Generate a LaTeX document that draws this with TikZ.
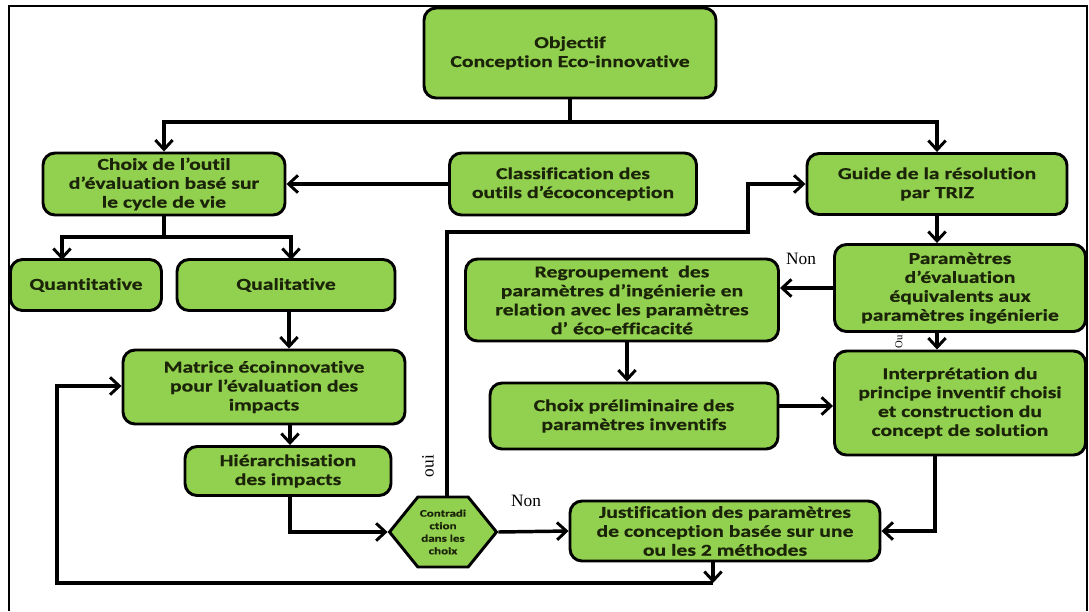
\documentclass[tikz,border=0pt]{standalone}
\usepackage{fontspec}
\setmainfont{Carlito}[FakeStretch=1.3,Ligatures=NoCommon,BoldFeatures={FakeBold=0.6}]
\newfontfamily\labelfont{Liberation Serif}
\usetikzlibrary{arrows.meta,shapes.symbols}
\definecolor{boxgreen}{HTML}{92D050}
\definecolor{boxtext}{HTML}{1B2408}
\begin{document}
\begin{tikzpicture}[x=0.75pt,y=-0.75pt,
  flowbox/.style={draw=black,line width=2.2pt,fill=boxgreen,rounded corners=9pt,
    align=center,text=boxtext,font=\fontsize{12.5}{14.2}\selectfont\bfseries,
    inner sep=1pt,anchor=center},
  link/.style={line width=2.6pt,-{Straight Barb[length=7pt,width=13pt,line width=2.2pt]}},
  plain/.style={line width=2.6pt},
  lab/.style={font=\labelfont\fontsize{13}{14}\selectfont}]
\useasboundingbox (0,0) rectangle (1089,611);
% outer frame
\draw[line width=1.6pt] (9,611) -- (9,6) -- (1087,6) -- (1087,611);

% boxes
\node[flowbox,minimum width=292*0.75pt,minimum height=90*0.75pt] (obj) at (570,53)
  {Objectif\\Conception Eco-innovative};
\node[flowbox,minimum width=242*0.75pt,minimum height=62*0.75pt] (choix) at (164,184)
  {Choix de l’outil\\d’évaluation basé sur\\le cycle de vie};
\node[flowbox,minimum width=247*0.75pt,minimum height=62*0.75pt] (classif) at (573,184)
  {Classification des\\outils d’écoconception};
\node[flowbox,minimum width=260*0.75pt,minimum height=61*0.75pt] (guide) at (937,184)
  {Guide de la résolution\\par TRIZ};
\node[flowbox,minimum width=151*0.75pt,minimum height=51*0.75pt] (quanti) at (86,285)
  {Quantitative};
\node[flowbox,minimum width=218*0.75pt,minimum height=51*0.75pt] (quali) at (286,285)
  {Qualitative};
\node[flowbox,minimum width=251*0.75pt,minimum height=87*0.75pt] (param) at (960,288)
  {Paramètres\\d’évaluation\\équivalents aux\\paramètres ingénierie};
\node[flowbox,minimum width=313*0.75pt,minimum height=82*0.75pt] (regroup) at (622,300)
  {Regroupement\ \ des\\paramètres d’ingénierie en\\relation avec les paramètres\\d’ éco-efficacité};
\node[flowbox,minimum width=282*0.75pt,minimum height=74*0.75pt] (matrice) at (264,387)
  {Matrice écoinnovative\\pour l’évaluation des\\impacts};
\node[flowbox,minimum width=251*0.75pt,minimum height=104*0.75pt] (interp) at (960,403)
  {Interprétation du\\principe inventif choisi\\et construction du\\concept de solution};
\node[flowbox,minimum width=288*0.75pt,minimum height=66*0.75pt] (prelim) at (634,416)
  {Choix préliminaire des\\paramètres inventifs};
\node[flowbox,minimum width=206*0.75pt,minimum height=49*0.75pt] (hier) at (288,471)
  {Hiérarchisation\\des impacts};
\node[flowbox,minimum width=310*0.75pt,minimum height=60*0.75pt] (justif) at (725,531)
  {Justification des paramètres\\de conception basée sur une\\ou les 2 méthodes};
\node[draw=black,line width=2.2pt,fill=boxgreen,shape=signal,signal to=west and east,
  signal pointer angle=102,minimum width=107*0.75pt,minimum height=70*0.75pt,
  inner sep=0pt,align=center,text=boxtext,
  font=\fontsize{7.5}{9.4}\selectfont\bfseries] (hex) at (443,532)
  {Contradi\\ction\\dans les\\choix};

% junction points
\coordinate (topsplit) at (570,122);
\coordinate (evalsplit) at (164,237);
\coordinate (loop) at (713,583);

% connectors
\draw[plain] (obj.south) -- (topsplit);
\draw[link] (topsplit) -| (choix.north);
\draw[link] (topsplit) -| (guide.north);
\draw[link] (classif.west) -- (choix.east);
\draw[plain] (choix.south) -- (evalsplit);
\draw[link] (evalsplit) -| (62,260);
\draw[link] (evalsplit) -| (291,260);
\draw[link] (quali.south -| 289,0) -- (matrice.north -| 289,0);
\draw[link] (matrice.south -| 290,0) -- (hier.north -| 290,0);
\draw[link] (hier.south -| 290,0) |- (hex.west);
\draw[link] (hex.north -| 447,0) |- (748,232) |- (guide.west);
\draw[link] (hex.east) -- (justif.west);
\draw[link] (justif.south -| loop) -- (loop);
\draw[link] (loop) -| (57,386) -- (matrice.west |- 0,386);
\draw[link] (guide.south) -- (param.north -| guide.south);
\draw[link] (param.west |- 0,288) -- (regroup.east |- 0,288);
\draw[link] (param.south -| 937,0) -- (interp.north -| 937,0);
\draw[link] (regroup.south -| 627,0) -- (prelim.north -| 627,0);
\draw[link] (prelim.east |- 0,406) -- (interp.west |- 0,406);
\draw[link] (interp.south -| 935,0) |- (justif.east);

% branch labels
\node[lab] (nonA) at (801,259) {Non};
\node[lab] (nonB) at (526,501) {Non};
\node[lab,rotate=90] (ouiA) at (428,466) {oui};
\node[lab,rotate=90,font=\labelfont\fontsize{8}{9}\selectfont] (ouiB) at (899,340) {Oui};
\end{tikzpicture}
\end{document}
